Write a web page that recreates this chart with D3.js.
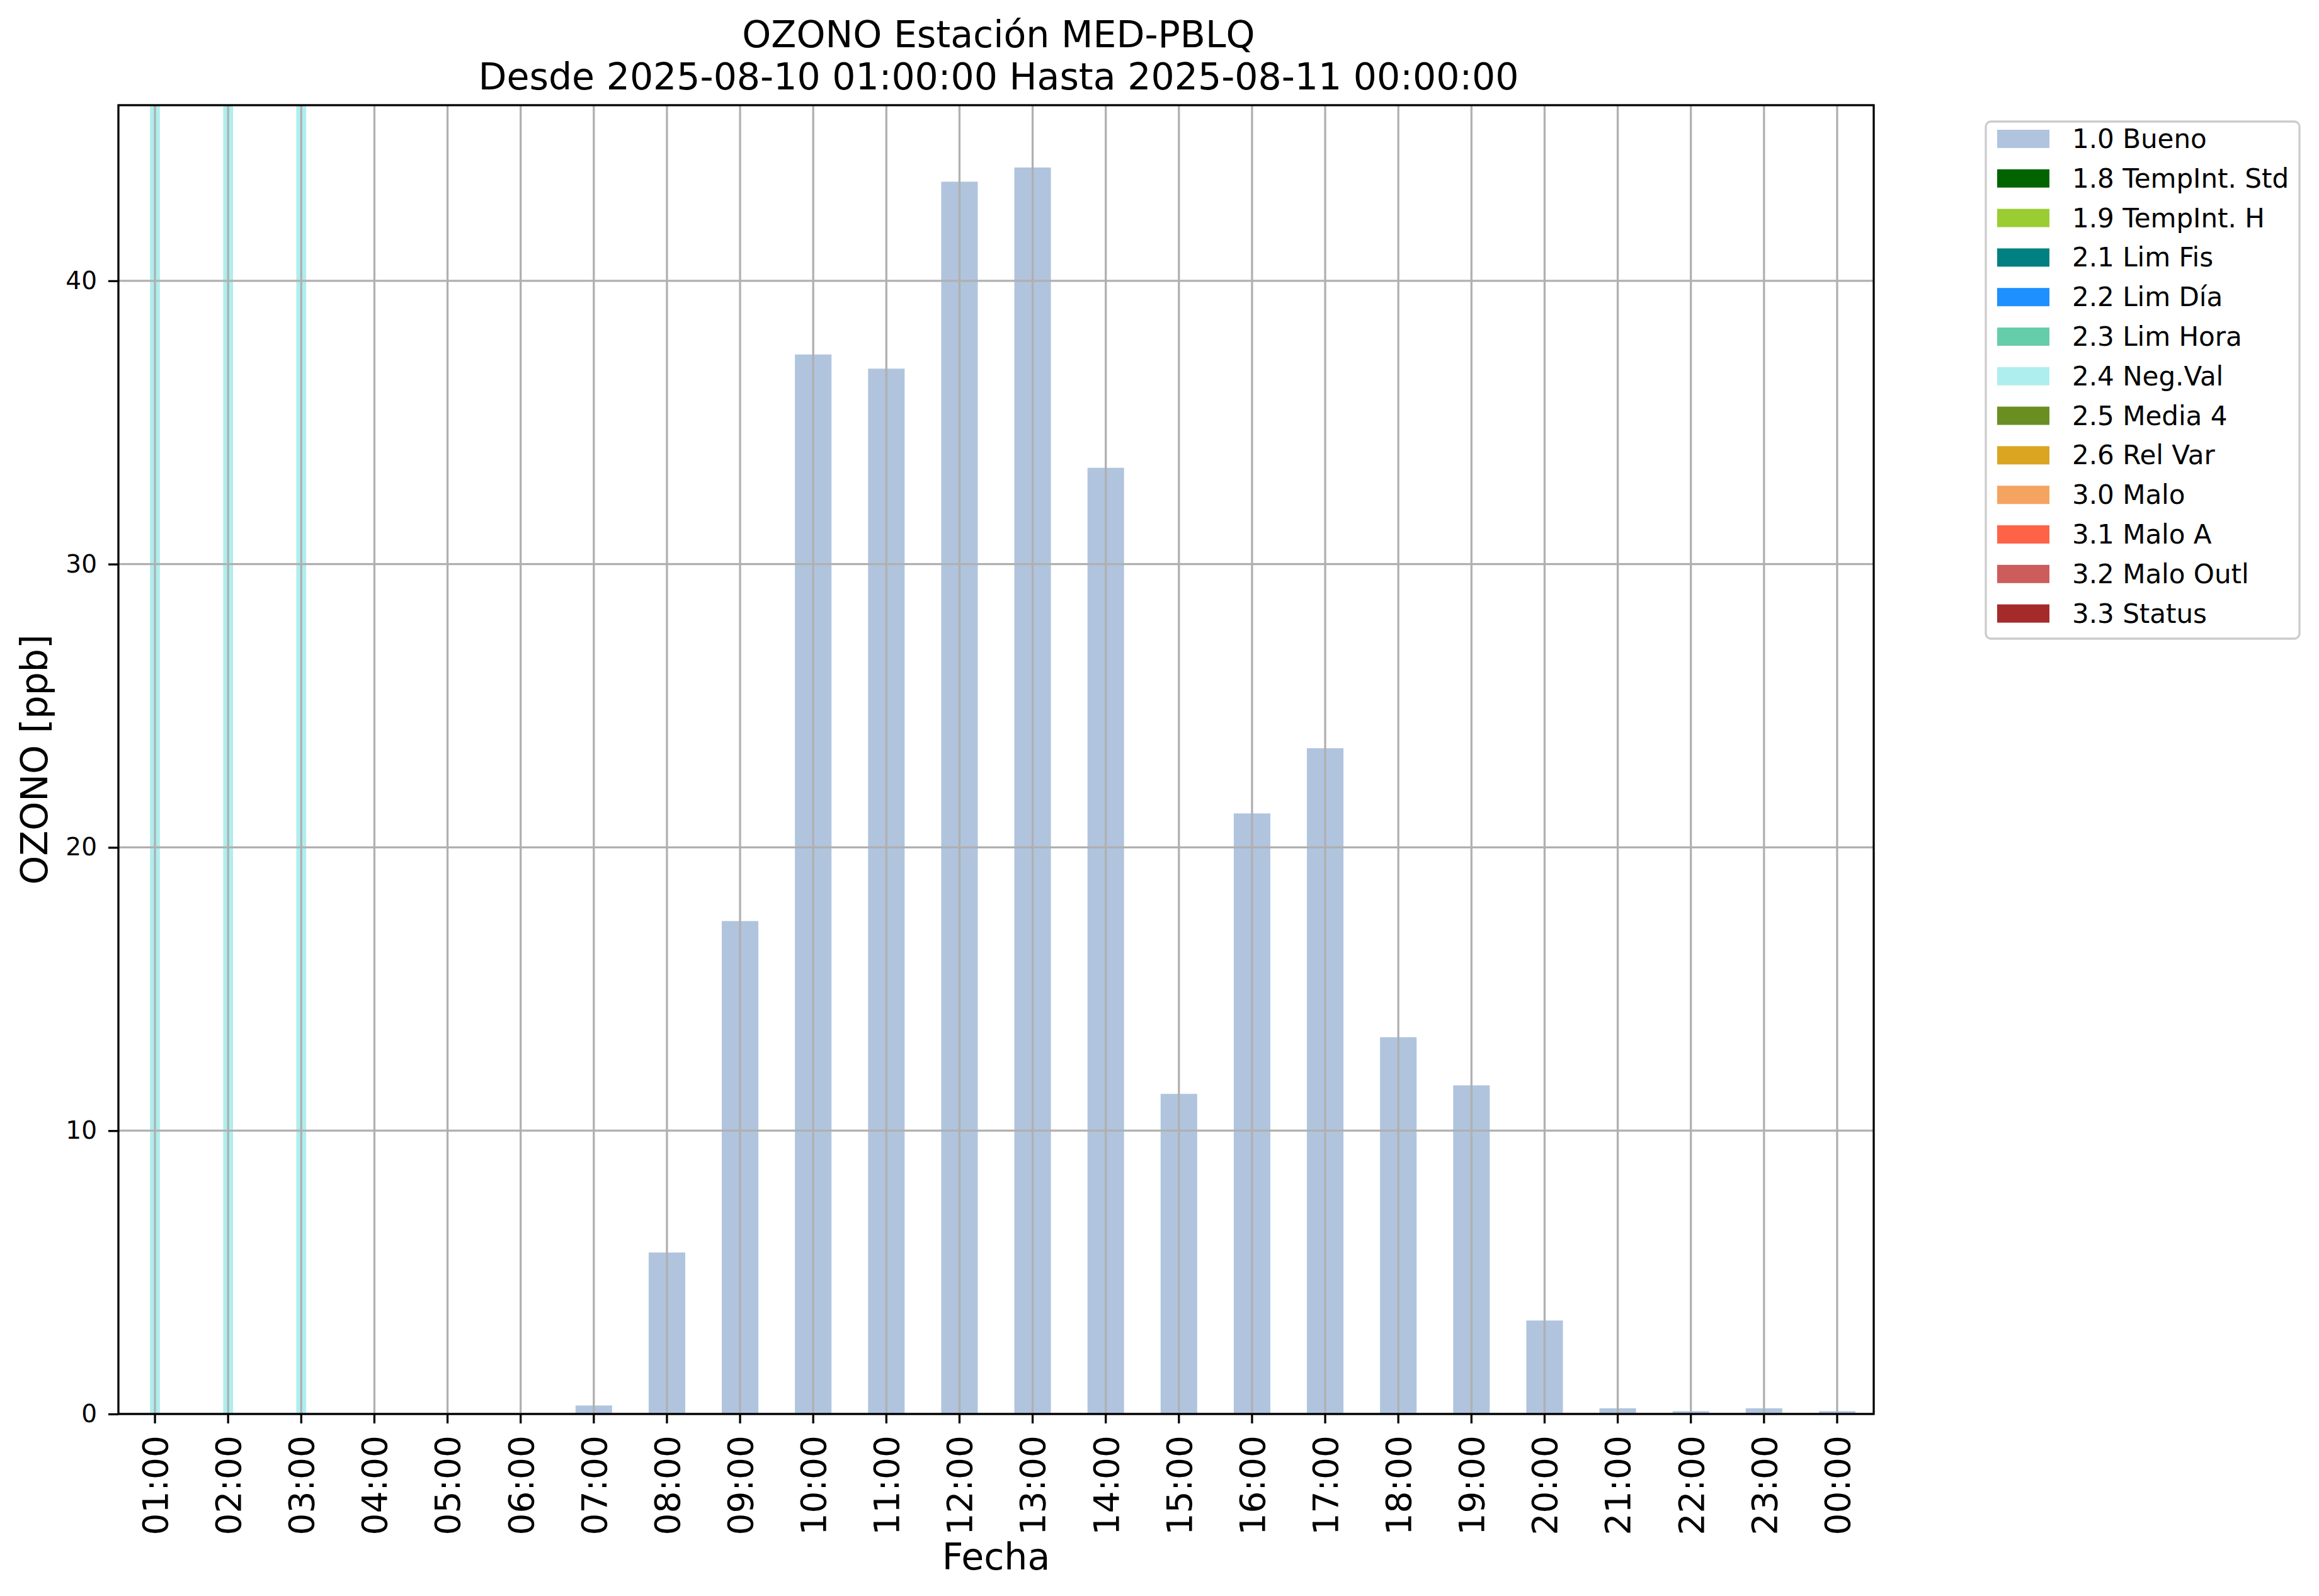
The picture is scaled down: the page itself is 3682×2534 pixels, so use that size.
<!DOCTYPE html>
<html>
<head>
<meta charset="utf-8">
<script src="https://cdn.jsdelivr.net/npm/d3@7"></script>
<style>
  body { margin: 0; background: #fff; }
  text { font-family: "DejaVu Sans", sans-serif; fill: #000; }
</style>
</head>
<body>
<div id="chart"></div>
<script>
var hours = ["01:00", "02:00", "03:00", "04:00", "05:00", "06:00", "07:00", "08:00",
             "09:00", "10:00", "11:00", "12:00", "13:00", "14:00", "15:00", "16:00",
             "17:00", "18:00", "19:00", "20:00", "21:00", "22:00", "23:00", "00:00"];
var ozone = [0, 0, 0, 0, 0, 0, 0.3, 5.7, 17.4, 37.4, 36.9, 43.5, 44.0, 33.4, 11.3, 21.2,
             23.5, 13.3, 11.6, 3.3, 0.2, 0.1, 0.2, 0.1];
var flags = ["2.4", "2.4", "2.4", "1.0", "1.0", "1.0", "1.0", "1.0", "1.0", "1.0", "1.0", "1.0",
             "1.0", "1.0", "1.0", "1.0", "1.0", "1.0", "1.0", "1.0", "1.0", "1.0", "1.0", "1.0"];
var yTicks = [0, 10, 20, 30, 40];
var legendCodes = ["1.0", "1.8", "1.9", "2.1", "2.2", "2.3", "2.4", "2.5", "2.6", "3.0", "3.1", "3.2", "3.3"];
var legendNames = ["Bueno", "TempInt. Std", "TempInt. H", "Lim Fis", "Lim Día", "Lim Hora",
                   "Neg.Val", "Media 4", "Rel Var", "Malo", "Malo A", "Malo Outl", "Status"];
var legendColours = ["lightsteelblue", "darkgreen", "yellowgreen", "teal", "dodgerblue",
                     "mediumaquamarine", "paleturquoise", "olivedrab", "goldenrod",
                     "sandybrown", "tomato", "indianred", "brown"];

function draw_chart() {
    var width = 3682, height = 2534;
    var plotLeft = 188, plotRight = 2975, plotTop = 167, plotBottom = 2245;

    var svg = d3.select("#chart").append("svg")
        .attr("width", width)
        .attr("height", height);

    var x = d3.scaleBand()
        .domain(hours)
        .range([plotLeft, plotRight])
        .paddingInner(0.5)
        .paddingOuter(0.25);

    var y = d3.scaleLinear()
        .domain([0, 46.2])
        .range([plotBottom, plotTop]);

    var colourOf = d3.scaleOrdinal().domain(legendCodes).range(legendColours);
    var rows = hours.map(function(h, i) { return {hour: h, value: ozone[i], flag: flags[i]}; });

    // good values as bars
    svg.append("g").selectAll("rect")
        .data(rows.filter(function(d) { return d.flag == "1.0" && d.value > 0; }))
        .enter().append("rect")
        .attr("x", function(d) { return x(d.hour); })
        .attr("width", x.bandwidth())
        .attr("y", function(d) { return y(d.value); })
        .attr("height", function(d) { return y(0) - y(d.value); })
        .style("fill", function(d) { return colourOf(d.flag); });

    // flagged hours drawn as full-height stripes
    var stripe = x.step() * 0.135;
    svg.append("g").selectAll("rect")
        .data(rows.filter(function(d) { return d.flag != "1.0"; }))
        .enter().append("rect")
        .attr("x", function(d) { return x(d.hour) + x.bandwidth() / 2 - stripe / 2; })
        .attr("width", stripe)
        .attr("y", plotTop)
        .attr("height", plotBottom - plotTop)
        .style("fill", function(d) { return colourOf(d.flag); });

    // grid on top of the bars
    var grid = svg.append("g").attr("stroke", "#b0b0b0").attr("stroke-width", 3.3);
    grid.selectAll(".vg").data(hours).enter().append("line")
        .attr("x1", function(d) { return x(d) + x.bandwidth() / 2; })
        .attr("x2", function(d) { return x(d) + x.bandwidth() / 2; })
        .attr("y1", plotTop).attr("y2", plotBottom);
    grid.selectAll(".hg").data(yTicks).enter().append("line")
        .attr("x1", plotLeft).attr("x2", plotRight)
        .attr("y1", function(d) { return y(d); })
        .attr("y2", function(d) { return y(d); });

    var xAxis = svg.append("g")
        .attr("transform", "translate(0," + plotBottom + ")")
        .call(d3.axisBottom(x).tickSize(15).tickSizeOuter(0).tickPadding(0));
    xAxis.select(".domain").remove();
    xAxis.selectAll(".tick line").attr("stroke", "#000").attr("stroke-width", 3.3);
    xAxis.selectAll(".tick text")
        .style("font-size", "55px")
        .attr("text-anchor", "end")
        .attr("dy", "0.36em")
        .attr("transform", "translate(0,34) rotate(-90)")
        .attr("x", 0).attr("y", 0);

    var yAxis = svg.append("g")
        .attr("transform", "translate(" + plotLeft + ",0)")
        .call(d3.axisLeft(y).tickValues(yTicks).tickSize(16).tickSizeOuter(0).tickPadding(18));
    yAxis.select(".domain").remove();
    yAxis.selectAll(".tick line").attr("stroke", "#000").attr("stroke-width", 3.3);
    yAxis.selectAll(".tick text").style("font-size", "39px");

    svg.append("rect")
        .attr("x", plotLeft).attr("y", plotTop)
        .attr("width", plotRight - plotLeft).attr("height", plotBottom - plotTop)
        .style("fill", "none").style("stroke", "#000").style("stroke-width", 3.3);

    var cx = (plotLeft + plotRight) / 2;
    svg.append("text").attr("x", cx + 4).attr("y", 75).attr("text-anchor", "middle")
        .style("font-size", "58.5px").text("OZONO Estación MED-PBLQ");
    svg.append("text").attr("x", cx + 4).attr("y", 142).attr("text-anchor", "middle")
        .style("font-size", "58.5px").text("Desde 2025-08-10 01:00:00 Hasta 2025-08-11 00:00:00");
    svg.append("text").attr("x", cx).attr("y", 2492).attr("text-anchor", "middle")
        .style("font-size", "58.5px").text("Fecha");
    svg.append("text")
        .attr("transform", "translate(75," + ((plotTop + plotBottom) / 2) + ") rotate(-90)")
        .attr("text-anchor", "middle")
        .style("font-size", "58.5px").text("OZONO [ppb]");

    // legend
    var legend_g = svg.append("g").attr("transform", "translate(3153,193)");
    legend_g.append("rect")
        .attr("width", 498).attr("height", 821)
        .attr("rx", 8).attr("ry", 8)
        .style("fill", "#fff").style("stroke", "#cccccc").style("stroke-width", 3.3);
    var item = legend_g.selectAll(".legend")
        .data(legendCodes)
        .enter().append("g")
        .attr("class", "legend")
        .attr("transform", function(d, i) { return "translate(0," + (13 + i * 62.8) + ")"; });
    item.append("rect")
        .attr("x", 18).attr("width", 83).attr("height", 29)
        .style("fill", function(d) { return colourOf(d); });
    item.append("text")
        .attr("x", 137).attr("y", 29)
        .style("font-size", "42px")
        .text(function(d, i) { return d + " " + legendNames[i]; });
}

draw_chart();
</script>
</body>
</html>
